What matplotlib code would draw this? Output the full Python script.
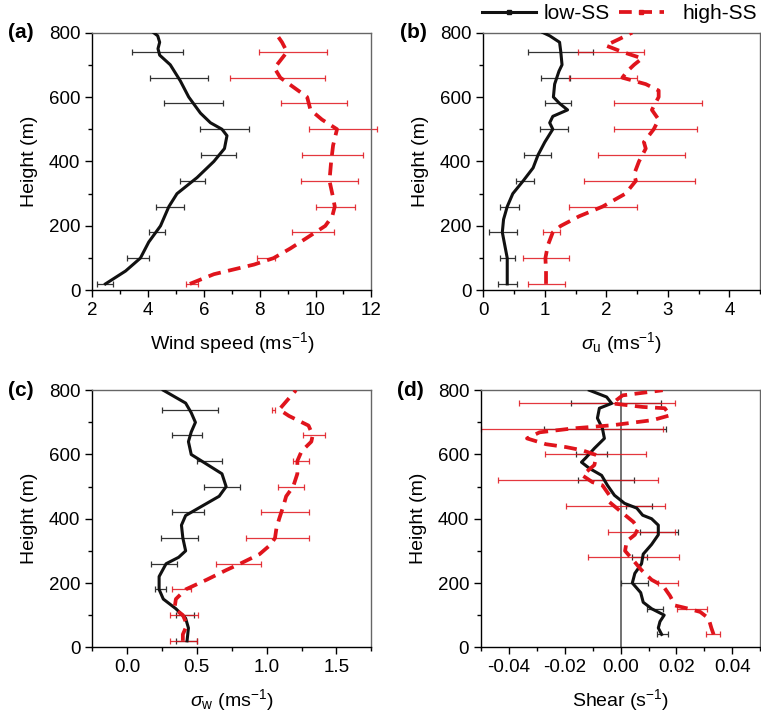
"""
four-panel vertical profiles: low-SS vs high-SS
"""
import numpy as np
import matplotlib
matplotlib.use('Agg')
import matplotlib.pyplot as plt
from matplotlib.lines import Line2D
from matplotlib.ticker import MultipleLocator

plt.rcParams['font.family'] = ['Liberation Sans', 'DejaVu Sans']
plt.rcParams['mathtext.fontset'] = 'custom'
plt.rcParams['mathtext.rm'] = 'Liberation Sans'
plt.rcParams['mathtext.it'] = 'Liberation Sans:italic'

BLACK = '#111111'
RED = '#e0141c'

# heights of the error bars
bar_h = [20, 100, 180, 260, 340, 420, 500, 580, 660, 740]
bar_h_d = [40, 120, 200, 280, 360, 440, 520, 600, 680, 760]

# (a) wind speed
ws_low_h = [20, 60, 100, 150, 200, 260, 300, 350, 400, 440, 480, 500, 520, 550,
            600, 650, 700, 730, 750, 770, 790, 800]
ws_low = [2.48, 3.2, 3.73, 4.03, 4.45, 4.75, 5.04, 5.76, 6.36, 6.74, 6.83, 6.65,
          6.24, 5.88, 5.46, 5.16, 4.8, 4.42, 4.36, 4.42, 4.35, 4.2]
ws_high_h = [20, 50, 80, 100, 130, 160, 200, 230, 260, 300, 340, 400, 450, 500,
             530, 560, 600, 630, 660, 690, 720, 740, 770, 800]
ws_high = [5.5, 6.36, 7.8, 8.5, 9.1, 9.64, 10.35, 10.6, 10.69, 10.6, 10.5, 10.56,
           10.63, 10.77, 10.23, 9.82, 9.7, 9.22, 8.74, 8.53, 8.8, 8.98, 8.8, 8.56]
ws_low_lo = [2.18, 3.25, 4.03, 4.29, 5.16, 5.89, 5.85, 4.57, 4.09, 3.43]
ws_low_hi = [2.75, 4.05, 4.60, 5.28, 6.06, 7.16, 7.61, 6.68, 6.14, 5.26]
ws_high_lo = [5.35, 7.91, 9.17, 10.03, 9.49, 9.52, 9.76, 8.77, 6.95, 7.97]
ws_high_hi = [5.78, 8.56, 10.65, 11.43, 11.52, 11.69, 12.2, 11.13, 10.33, 10.41]

# (b) sigma u
su_low_h = [20, 100, 140, 180, 220, 260, 300, 340, 380, 420, 460, 500, 520, 540,
            560, 580, 600, 640, 680, 700, 740, 770, 790, 800]
su_low = [0.39, 0.39, 0.35, 0.31, 0.33, 0.39, 0.48, 0.65, 0.81, 0.89, 1.0, 1.13,
          1.08, 1.13, 1.37, 1.24, 1.14, 1.16, 1.23, 1.28, 1.26, 1.24, 1.08, 0.97]
su_high_h = [20, 60, 100, 140, 180, 200, 230, 260, 300, 340, 360, 400, 440, 460,
             500, 530, 560, 600, 620, 640, 660, 680, 700, 720, 740, 760, 780, 800]
su_high = [1.02, 1.02, 1.01, 1.05, 1.13, 1.26, 1.56, 1.94, 2.31, 2.48, 2.45, 2.53,
           2.64, 2.61, 2.77, 2.85, 2.74, 2.85, 2.85, 2.64, 2.26, 2.34, 2.45, 2.58,
           2.26, 1.99, 2.21, 2.42]
su_low_lo = [0.24, 0.28, 0.09, 0.28, 0.54, 0.66, 0.93, 1.01, 0.94, 0.73]
su_low_hi = [0.55, 0.52, 0.55, 0.58, 0.82, 1.10, 1.38, 1.43, 1.41, 1.79]
su_high_lo = [0.72, 0.64, 0.97, 1.40, 1.64, 1.87, 2.12, 2.13, 1.40, 1.54]
su_high_hi = [1.33, 1.39, 1.24, 2.50, 3.44, 3.27, 3.47, 3.55, 2.49, 2.61]

# (c) sigma w
sw_low_h = [20, 60, 90, 120, 150, 180, 220, 260, 280, 300, 340, 380, 410, 440,
            470, 500, 540, 570, 600, 640, 670, 700, 730, 760, 800]
sw_low = [0.43, 0.44, 0.42, 0.35, 0.26, 0.23, 0.23, 0.28, 0.37, 0.42, 0.40, 0.39,
          0.42, 0.54, 0.66, 0.71, 0.68, 0.57, 0.46, 0.44, 0.46, 0.49, 0.46, 0.42,
          0.26]
sw_high_h = [20, 40, 60, 80, 100, 120, 150, 180, 210, 240, 260, 290, 320, 340,
             370, 400, 440, 470, 500, 540, 580, 610, 640, 660, 690, 720, 740,
             770, 800]
sw_high = [0.40, 0.40, 0.42, 0.42, 0.40, 0.34, 0.35, 0.42, 0.57, 0.71, 0.81, 0.95,
           1.03, 1.06, 1.07, 1.09, 1.12, 1.14, 1.19, 1.22, 1.22, 1.25, 1.32, 1.33,
           1.30, 1.16, 1.09, 1.15, 1.21]
sw_low_lo = [0.35, 0.35, 0.20, 0.17, 0.24, 0.32, 0.55, 0.50, 0.32, 0.25]
sw_low_hi = [0.50, 0.48, 0.28, 0.36, 0.51, 0.55, 0.81, 0.68, 0.54, 0.65]
sw_high_lo = [0.31, 0.31, 0.32, 0.64, 0.85, 0.96, 1.08, 1.19, 1.26, 1.04]
sw_high_hi = [0.50, 0.51, 0.46, 0.96, 1.30, 1.30, 1.27, 1.30, 1.42, 1.06]

# (d) shear
sh_low_h = [40, 60, 80, 100, 120, 140, 170, 200, 230, 260, 290, 320, 350, 380,
            400, 411, 433, 448, 473, 504, 535, 557, 576, 591, 619, 650, 681, 713,
            744, 759, 779, 800]
sh_low = [0.0147, 0.0135, 0.0141, 0.0156, 0.0111, 0.0081, 0.0072, 0.0042, 0.0051,
          0.0075, 0.0081, 0.0111, 0.0135, 0.0135, 0.0111, 0.0079, 0.0058, 0.0014,
          -0.0022, -0.0047, -0.0068, -0.0112, -0.014, -0.0123, -0.0094, -0.0058,
          -0.0065, -0.0083, -0.0076, -0.0032, -0.005, -0.0112]
sh_high_h = [40, 60, 90, 110, 120, 130, 160, 190, 210, 240, 270, 300, 330, 350,
             370, 390, 420, 452, 473, 504, 514, 535, 567, 598, 613, 623, 632, 650,
             669, 681, 691, 707, 722, 744, 748, 759, 784, 800]
sh_high = [0.0333, 0.0325, 0.0315, 0.0285, 0.0243, 0.0195, 0.0177, 0.0153, 0.0111,
           0.0075, 0.0046, 0.0016, 0.0022, 0.0051, 0.0063, 0.0046, 0.0004, -0.004,
           -0.004, -0.0065, -0.0101, -0.0137, -0.0094, -0.0086, -0.0137, -0.0195,
           -0.0267, -0.0335, -0.029, -0.0173, -0.003, 0.0115, 0.0177, 0.0158,
           0.0079, -0.003, 0.0007, 0.0151]
sh_low_lo = [0.0129, 0.0093, 0.0, 0.0042, 0.0070, 0.0021, -0.0151, -0.0158, -0.0274, -0.0177]
sh_low_hi = [0.0171, 0.0153, 0.0099, 0.0093, 0.0205, 0.0112, 0.0047, -0.0047, 0.0162, 0.0144]
sh_high_lo = [0.0307, 0.0201, 0.0135, -0.0116, -0.0044, -0.0195, -0.044, -0.027, -0.050, -0.0364]
sh_high_hi = [0.0357, 0.0309, 0.0205, 0.021, 0.0195, 0.0159, 0.0133, 0.009, 0.0151, 0.0195]


def draw_panel(ax, hb, low_h, low, high_h, high, llo, lhi, hlo, hhi):
    llo, lhi, hlo, hhi = map(np.array, (llo, lhi, hlo, hhi))
    ax.errorbar((llo + lhi) / 2, hb, xerr=(lhi - llo) / 2, fmt='none',
                ecolor='#333333', elinewidth=0.9, capsize=2.5, capthick=0.9,
                zorder=2, clip_on=False)
    ax.errorbar((hlo + hhi) / 2, hb, xerr=(hhi - hlo) / 2, fmt='none',
                ecolor=RED, elinewidth=0.9, capsize=2.5, capthick=0.9,
                alpha=0.85, zorder=2, clip_on=False)
    ax.plot(low, low_h, color=BLACK, lw=2.2, zorder=3, solid_joinstyle='round')
    ax.plot(high, high_h, color=RED, lw=2.7, dashes=(3.4, 2.0), zorder=3)
    ax.set_ylim(0, 800)
    ax.yaxis.set_major_locator(MultipleLocator(200))
    ax.yaxis.set_minor_locator(MultipleLocator(100))
    ax.set_ylabel('Height (m)', fontsize=14, labelpad=8)
    ax.tick_params(which='both', direction='out', top=False, right=False,
                   labelsize=13.5)
    ax.tick_params(which='major', length=5, width=1)
    ax.tick_params(which='minor', length=3, width=1)
    for s in ('top', 'right'):
        ax.spines[s].set_color('#666666')
    for s in ax.spines.values():
        s.set_linewidth(1.0)


fig = plt.figure(figsize=(7.61, 7.24), dpi=100)

ax_a = fig.add_axes([0.121, 0.599, 0.367, 0.356])
ax_b = fig.add_axes([0.635, 0.599, 0.364, 0.356])
ax_c = fig.add_axes([0.121, 0.106, 0.367, 0.355])
ax_d = fig.add_axes([0.632, 0.106, 0.367, 0.355])

draw_panel(ax_a, bar_h, ws_low_h, ws_low, ws_high_h, ws_high,
           ws_low_lo, ws_low_hi, ws_high_lo, ws_high_hi)
ax_a.set_xlim(2, 12)
ax_a.xaxis.set_major_locator(MultipleLocator(2))
ax_a.xaxis.set_minor_locator(MultipleLocator(1))
ax_a.set_xlabel('Wind speed (ms$^{-1}$)', fontsize=14, labelpad=8)

draw_panel(ax_b, bar_h, su_low_h, su_low, su_high_h, su_high,
           su_low_lo, su_low_hi, su_high_lo, su_high_hi)
ax_b.set_xlim(0, 4.5)
ax_b.xaxis.set_major_locator(MultipleLocator(1))
ax_b.xaxis.set_minor_locator(MultipleLocator(0.5))
ax_b.set_xlabel(r'$\sigma_{\rm u}$ (ms$^{-1}$)', fontsize=14, labelpad=8)

draw_panel(ax_c, bar_h, sw_low_h, sw_low, sw_high_h, sw_high,
           sw_low_lo, sw_low_hi, sw_high_lo, sw_high_hi)
ax_c.set_xlim(-0.25, 1.75)
ax_c.xaxis.set_major_locator(MultipleLocator(0.5))
ax_c.xaxis.set_minor_locator(MultipleLocator(0.25))
ax_c.xaxis.set_major_formatter(plt.FormatStrFormatter('%.1f'))
ax_c.set_xlabel(r'$\sigma_{\rm w}$ (ms$^{-1}$)', fontsize=14, labelpad=8)

draw_panel(ax_d, bar_h_d, sh_low_h, sh_low, sh_high_h, sh_high,
           sh_low_lo, sh_low_hi, sh_high_lo, sh_high_hi)
ax_d.axvline(0, color='#666666', lw=1.3, zorder=1)
ax_d.set_xlim(-0.05, 0.05)
ax_d.xaxis.set_major_locator(MultipleLocator(0.02))
ax_d.xaxis.set_minor_locator(MultipleLocator(0.01))
ax_d.xaxis.set_major_formatter(plt.FormatStrFormatter('%.2f'))
ax_d.set_xlabel('Shear (s$^{-1}$)', fontsize=14, labelpad=8)

for ax, lab in zip((ax_a, ax_b, ax_c, ax_d), ('(a)', '(b)', '(c)', '(d)')):
    ax.text(-0.30, 1.0, lab, transform=ax.transAxes, fontsize=15,
            fontweight='bold', ha='left', va='center')

# legend: two separate entries so each handle can have its own length
h_low = Line2D([], [], color=BLACK, lw=2.2, marker='s', markersize=3.5)
h_high = Line2D([], [], color=RED, lw=2.7, dashes=(3.4, 2.0), marker='s',
                markersize=3.5)
fig.legend([h_low], ['low-SS'], loc='center left', bbox_to_anchor=(0.633, 0.981),
           frameon=False, fontsize=15, handlelength=2.6, handletextpad=0.38,
           borderpad=0, borderaxespad=0)
fig.legend([h_high], ['high-SS'], loc='center left', bbox_to_anchor=(0.813, 0.981),
           frameon=False, fontsize=15, handlelength=2.16, handletextpad=0.9,
           borderpad=0, borderaxespad=0)

fig.savefig('out.png', dpi=100)
